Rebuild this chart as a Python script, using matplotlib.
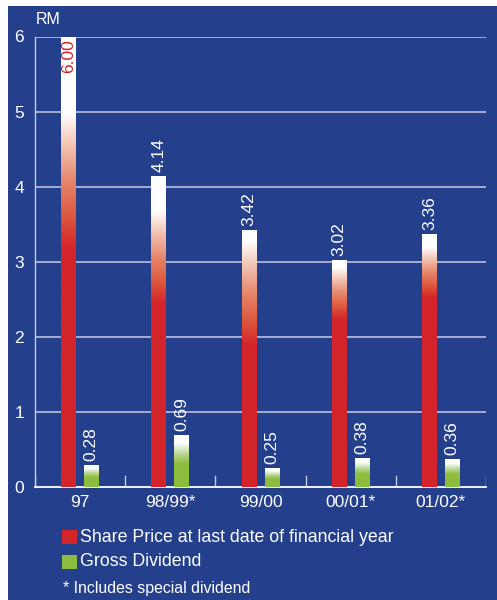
import matplotlib.pyplot as plt
import numpy as np
from matplotlib.colors import LinearSegmentedColormap
from matplotlib.patches import Rectangle

# data
years = ["97", "98/99*", "99/00", "00/01*", "01/02*"]
share_price = [6.00, 4.14, 3.42, 3.02, 3.36]
dividend = [0.28, 0.69, 0.25, 0.38, 0.36]
price_labels = ["6.00", "4.14", "3.42", "3.02", "3.36"]
div_labels = ["0.28", "0.69", "0.25", "0.38", "0.36"]

BLUE = "#243f8c"
RED = "#d3242b"
GREEN = "#8dbd3e"
GRID = "#c6cbe4"

# fade stops per price bar (fraction of bar height where solid red ends / white starts)
red_end = [0.53, 0.59, 0.55, 0.74, 0.75]
white_start = [0.83, 0.89, 0.96, 0.97, 0.95]

plt.rcParams["font.family"] = ["Liberation Sans", "DejaVu Sans"]

green_cmap = LinearSegmentedColormap.from_list(
    "greenfade", [(0, GREEN), (0.45, GREEN), (0.65, "#bcd99a"), (0.85, "#ffffff"), (1, "#ffffff")])


def red_fade(r, w):
    span = w - r
    return LinearSegmentedColormap.from_list(
        "redfade", [(0, RED), (r, RED), (r + 0.2 * span, "#db5038"),
                    (r + 0.5 * span, "#e6876b"), (r + 0.78 * span, "#f3c8b8"),
                    (w, "#ffffff"), (1, "#ffffff")])


def grad_bar(ax, x0, w, h, cmap):
    grad = np.linspace(0, 1, 256).reshape(-1, 1)
    ax.imshow(grad, cmap=cmap, origin="lower", aspect="auto",
              extent=[x0, x0 + w, 0, h], interpolation="bicubic", zorder=3)


fig = plt.figure(figsize=(4.97, 6.0), dpi=100)
fig.patches.append(Rectangle((8 / 497, 0), 1, 1 - 6 / 600, transform=fig.transFigure,
                             facecolor=BLUE, edgecolor="none", zorder=-10))

ax = fig.add_axes([35 / 497, 1 - 487 / 600, 451 / 497, 450.5 / 600])
ax.set_facecolor("none")

for i in range(len(years)):
    grad_bar(ax, i + 0.29, 0.165, share_price[i], red_fade(red_end[i], white_start[i]))
    grad_bar(ax, i + 0.545, 0.16, dividend[i], green_cmap)
    # value labels
    if share_price[i] >= 5.5:
        ax.text(i + 0.3725, share_price[i] - 0.04, price_labels[i], rotation=90,
                ha="center", va="top", color=RED, fontsize=12.5, zorder=5)
    else:
        ax.text(i + 0.3725, share_price[i] + 0.06, price_labels[i], rotation=90,
                ha="center", va="bottom", color="white", fontsize=12.5, zorder=5)
    ax.text(i + 0.625, dividend[i] + 0.06, div_labels[i], rotation=90,
            ha="center", va="bottom", color="white", fontsize=12.5, zorder=5)

ax.set_xlim(0, 5)
ax.set_ylim(0, 6)
for y in range(1, 7):
    ax.axhline(y, color=GRID, lw=1.1, zorder=1)
for x in range(0, 6):
    ax.plot([x, x], [0, 0.15], color=GRID, lw=1.0, zorder=1)

for s in ["top", "right"]:
    ax.spines[s].set_visible(False)
ax.spines["left"].set_color(GRID)
ax.spines["bottom"].set_color("white")
ax.spines["left"].set_linewidth(1.0)
ax.spines["bottom"].set_linewidth(1.3)

ax.set_yticks(range(0, 7))
ax.set_xticks(np.arange(len(years)) + 0.5)
ax.set_xticklabels(years)
ax.tick_params(axis="both", length=0, colors="white", labelsize=12.5)
ax.tick_params(axis="y", pad=8)
ax.tick_params(axis="x", pad=6)

fig.text(36 / 497, 1 - 19 / 600, "RM", color="white", fontsize=11.5, va="center", ha="left")

# legend
fig.patches.append(Rectangle((62 / 497, 1 - 544 / 600), 15 / 497, 14 / 600,
                             transform=fig.transFigure, facecolor=RED, zorder=2))
fig.patches.append(Rectangle((62 / 497, 1 - 569 / 600), 15 / 497, 14 / 600,
                             transform=fig.transFigure, facecolor=GREEN, zorder=2))
fig.text(80 / 497, 1 - 537 / 600, "Share Price at last date of financial year",
         color="white", fontsize=12.8, va="center", ha="left")
fig.text(80 / 497, 1 - 562 / 600, "Gross Dividend",
         color="white", fontsize=12.8, va="center", ha="left")
fig.text(63 / 497, 1 - 588 / 600, "* Includes special dividend",
         color="white", fontsize=11.4, va="center", ha="left")

fig.savefig("out.png", dpi=100)
